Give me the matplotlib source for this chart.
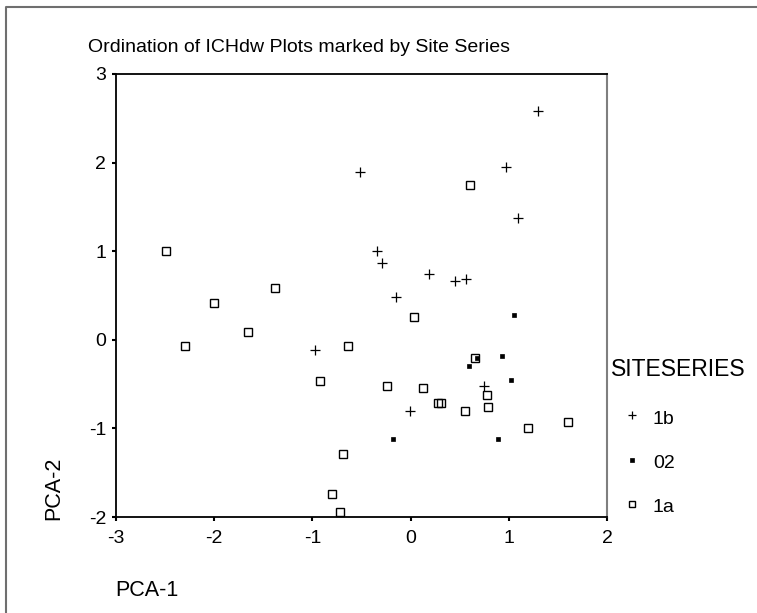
import matplotlib
matplotlib.use("Agg")
import matplotlib.pyplot as plt
from matplotlib.lines import Line2D

plt.rcParams['font.family'] = ['Liberation Sans', 'DejaVu Sans']
plt.rcParams['axes.unicode_minus'] = False

# site series 1b (+)
x_1b = [-0.51, 1.30, 0.975, 1.09, -0.34, -0.29, 0.19, 0.45, 0.56, -0.15, -0.97, 0.75, -0.01]
y_1b = [1.89, 2.58, 1.95, 1.37, 1.00, 0.865, 0.74, 0.665, 0.69, 0.485, -0.12, -0.52, -0.80]

# site series 02 (small filled squares)
x_02 = [1.05, 0.93, 0.68, 0.60, 1.02, -0.18, 0.89]
y_02 = [0.285, -0.18, -0.21, -0.30, -0.45, -1.12, -1.12]

# site series 1a (open squares)
x_1a = [-2.49, -1.38, -2.00, -1.66, -2.30, -0.64, -0.92, -0.69, -0.80, -0.72,
        0.61, 0.04, 0.66, -0.24, 0.13, 0.28, 0.305, 0.78, 0.79, 0.55, 1.20, 1.60]
y_1a = [1.00, 0.585, 0.41, 0.087, -0.07, -0.07, -0.46, -1.29, -1.74, -1.94,
        1.75, 0.26, -0.21, -0.52, -0.545, -0.71, -0.71, -0.62, -0.755, -0.80, -1.00, -0.93]

xticks = [-3, -2, -1, 0, 1, 2]
yticks = [-2, -1, 0, 1, 2, 3]

fig = plt.figure(figsize=(7.57, 6.13), dpi=100)
ax = fig.add_axes([0.1532, 0.1566, 0.6486, 0.7227])

ax.plot(x_1b, y_1b, ls='none', marker='+', ms=6.5, mew=0.9, color='black', clip_on=False)
ax.plot(x_02, y_02, ls='none', marker='s', ms=3, mew=0.5, color='black', clip_on=False)
ax.plot(x_1a, y_1a, ls='none', marker='s', ms=6, mew=1.0, mfc='none', mec='black', clip_on=False)

ax.set_xlim(-3, 2)
ax.set_ylim(-2, 3)
ax.set_xticks(xticks)
ax.set_yticks(yticks)
ax.tick_params(direction='out', length=3, width=1.5, labelsize=14, pad=4)
ax.tick_params(axis='x', pad=6)
for s in ['left', 'bottom', 'top']:
    ax.spines[s].set_linewidth(1.3)
    ax.spines[s].set_color('black')
ax.spines['right'].set_linewidth(1.5)
ax.spines['right'].set_color('#7f7f7f')

fig.text(88 / 757, 1 - 47 / 613, "Ordination of ICHdw Plots marked by Site Series",
         fontsize=14, ha='left', va='center')
fig.text(115 / 757, 1 - 591 / 613, "PCA-1", fontsize=15.5, ha='left', va='center')
fig.text(54 / 757, 1 - 488 / 613, "PCA-2", fontsize=15.5, ha='center', va='center',
         rotation=90)

# legend
fig.text(611 / 757, 1 - 370 / 613, "SITESERIES", fontsize=16.5, ha='left', va='center')
leg_labels = ["1b", "02", "1a"]
leg_y = [419, 464, 508]
leg_styles = [dict(marker='+', ms=5.5, mew=0.9, color='black'),
              dict(marker='s', ms=3, mew=0.5, color='black'),
              dict(marker='s', ms=5, mew=1.0, mfc='none', mec='black')]
for lab, yy, st in zip(leg_labels, leg_y, leg_styles):
    fig.add_artist(Line2D([632 / 757], [1 - (yy - 4) / 613], ls='none',
                          transform=fig.transFigure, **st))
    fig.text(653 / 757, 1 - yy / 613, lab, fontsize=14, ha='left', va='center')

# outer frame (left and top edges visible)
fig.add_artist(Line2D([6 / 757, 6 / 757, 1.0], [0.0, 1 - 7 / 613, 1 - 7 / 613],
                      transform=fig.transFigure, color='#6f6f6f', lw=1.5))

fig.savefig("out.png", dpi=100)
